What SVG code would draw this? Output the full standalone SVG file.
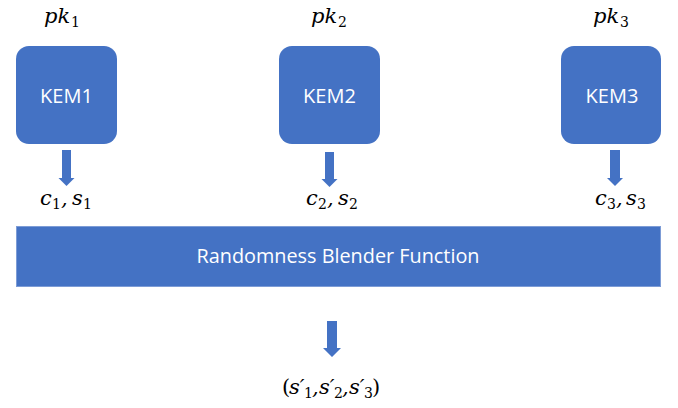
<svg xmlns="http://www.w3.org/2000/svg" width="678" height="408" viewBox="0 0 678 408">
  <style>
    .box { fill: #4472C4; }
    .bar { fill: #4472C4; stroke: #7d9cd6; stroke-width: 1; }
    .lbl { fill: #ffffff; font-family: "Open Sans", "Liberation Sans", sans-serif; font-size: 20px; text-anchor: middle; }
    .math { fill: #000000; font-family: "DejaVu Serif", "Liberation Serif", serif; font-style: italic; font-size: 21px; }
    .sub { font-style: normal; font-size: 14px; }
    .up { font-style: normal; }
    .arrow { fill: #4472C4; }
  </style>
  <rect width="678" height="408" fill="#ffffff"/>

  <g id="kem1">
    <text class="math" x="44" y="23">pk<tspan class="sub" x="71" y="27">1</tspan></text>
    <rect class="box" x="16" y="46" width="101" height="98" rx="13"/>
    <text class="lbl" x="66.5" y="103">KEM1</text>
    <text class="math" x="40" y="205">c<tspan class="sub" x="52" y="209">1</tspan><tspan x="61" y="205">,</tspan><tspan x="72" y="205">s</tspan><tspan class="sub" x="83" y="209">1</tspan></text>
  </g>

  <g id="kem2">
    <text class="math" x="311" y="23">pk<tspan class="sub" x="338" y="27">2</tspan></text>
    <rect class="box" x="279" y="46" width="101" height="98" rx="13"/>
    <text class="lbl" x="329.5" y="103">KEM2</text>
    <text class="math" x="306" y="205">c<tspan class="sub" x="318" y="209">2</tspan><tspan x="327" y="205">,</tspan><tspan x="338" y="205">s</tspan><tspan class="sub" x="349" y="209">2</tspan></text>
  </g>

  <g id="kem3">
    <text class="math" x="593" y="23">pk<tspan class="sub" x="620" y="27">3</tspan></text>
    <rect class="box" x="561" y="46" width="100" height="98" rx="13"/>
    <text class="lbl" x="612" y="103">KEM3</text>
    <text class="math" x="595" y="205">c<tspan class="sub" x="607" y="209">3</tspan><tspan x="616" y="205">,</tspan><tspan x="626" y="205">s</tspan><tspan class="sub" x="637" y="209">3</tspan></text>
  </g>

  <g id="blender">
    <rect class="bar" x="16.5" y="226.5" width="644" height="60"/>
    <text class="lbl" x="338" y="263" textLength="283" lengthAdjust="spacingAndGlyphs">Randomness Blender Function</text>
  </g>

  <g id="output">
    <text class="math" x="282" y="394" font-size="20"><tspan class="up">(</tspan><tspan x="289" y="394">s′</tspan><tspan class="sub" x="304" y="398" font-size="13">1</tspan><tspan x="312" y="394">,</tspan><tspan x="319" y="394">s′</tspan><tspan class="sub" x="334" y="398" font-size="13">2</tspan><tspan x="342" y="394">,</tspan><tspan x="349" y="394">s′</tspan><tspan class="sub" x="364" y="398" font-size="13">3</tspan><tspan class="up" x="372" y="394">)</tspan></text>
  </g>

  <g id="connectors">
    <polygon class="arrow" points="62,150 71,150 71,178 74.5,178 66.5,186 58.5,178 62,178"/>
    <polygon class="arrow" points="325,152 334,152 334,179 337.5,179 329.5,187 321.5,179 325,179"/>
    <polygon class="arrow" points="610,150 620,150 620,178 623,178 615,186 607,178 610,178"/>
    <polygon class="arrow" points="327,321 337,321 337,348 341,348 332,357 323,348 327,348"/>
  </g>
</svg>
